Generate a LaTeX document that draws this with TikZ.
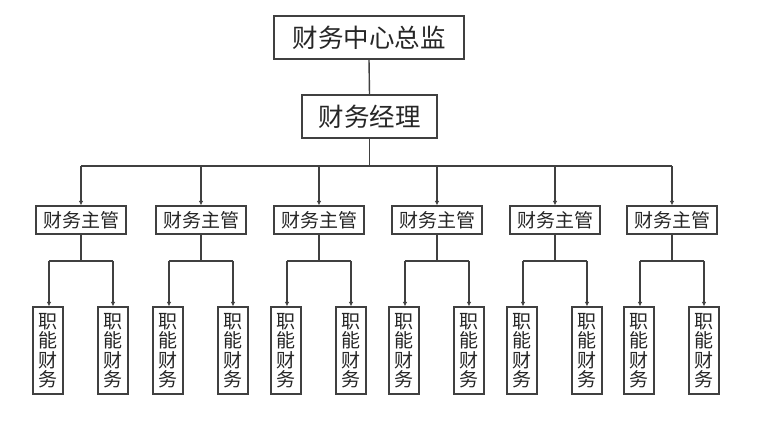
\documentclass[tikz,border=0pt]{standalone}
\usepackage{fontspec}
\setmainfont{Noto Sans CJK SC}
\usetikzlibrary{arrows.meta}
\begin{document}
\begin{tikzpicture}[x=1pt,y=-1pt,
  box/.style={draw=black!75,line width=1.2pt,fill=white,inner sep=0pt,text=black!85},
  topbox/.style={box,minimum width=190pt,minimum height=43pt,font=\fontsize{25.5}{25.5}\selectfont},
  midbox/.style={box,minimum width=135pt,minimum height=43pt,font=\fontsize{25.5}{25.5}\selectfont},
  mgrbox/.style={box,minimum width=90pt,minimum height=28pt,font=\fontsize{19}{19}\selectfont},
  leafbox/.style={box,minimum width=30pt,minimum height=87pt,font=\fontsize{19}{19.5}\selectfont,align=center},
  conn/.style={draw=black!75,line width=1.4pt},
  arr/.style={conn,-{Latex[length=4.5pt,width=4.5pt]}}
]
\useasboundingbox[fill=white] (0,0) rectangle (760,424);
\node[topbox] (top) at (369,37.5) {财务中心总监};
\node[midbox] (mgr) at (369.5,116.5) {财务经理};
\draw[conn] (top.south) -- (mgr.north);
\coordinate (bus) at (369.5,166);
\draw[conn] (mgr.south) -- (bus);
\foreach \i/\x in {1/81,2/201,3/319,4/437,5/555,6/672}{
  \node[mgrbox] (m\i) at (\x,220) {财务主管};
  \coordinate (b\i) at (\x,166);
  \draw[arr] (b\i) -- (m\i.north);
  \coordinate (s\i) at (\x,261);
  \node[leafbox] (l\i a) at (\x-33,350.5) {职\\能\\财\\务};
  \node[leafbox] (l\i b) at (\x+32,350.5) {职\\能\\财\\务};
  \coordinate (sa\i) at (\x-32,261);
  \coordinate (sb\i) at (\x+32,261);
  \draw[conn] (m\i.south) -- (s\i);
  \draw[arr] (sa\i) -- (sa\i |- l\i a.north);
  \draw[arr] (sb\i) -- (sb\i |- l\i b.north);
  \draw[conn] (sa\i) -- (sb\i);
}
\draw[conn] (b1) -- (b6);
\end{tikzpicture}
\end{document}
